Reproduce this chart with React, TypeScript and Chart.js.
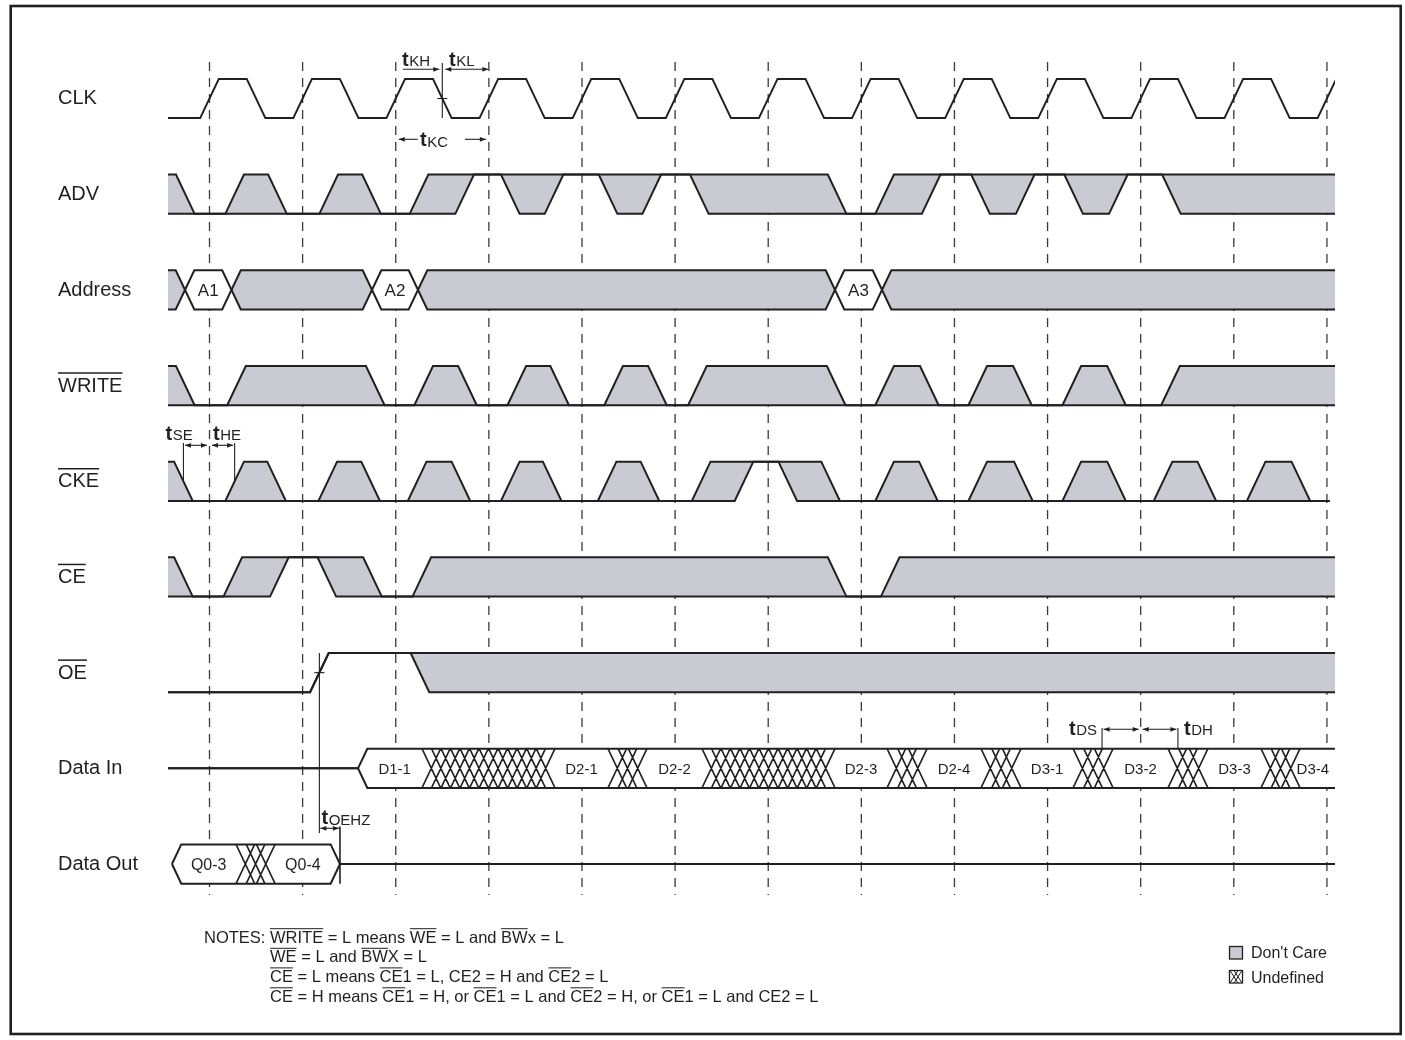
import React, { useEffect, useRef } from 'react';
import { Chart, registerables } from 'chart.js';

Chart.register(...registerables);

type Trans = [number, string];
type Pt = { x: number; y: number | null };

// ---------------- data (time in clock periods, rows top to bottom) ----------------
const ROW_LABELS = ['CLK', 'ADV', 'Address', 'WRITE', 'CKE', 'CE', 'OE', 'Data In', 'Data Out'];
const ROW_OVERLINE = [false, false, false, true, true, true, true, false, false];

const CLOCK_EDGES = [0, 1, 2, 3, 4, 5, 6, 7, 8, 9, 10, 11, 12];

const CLK_INIT = '0';
const CLK_TRANS: Trans[] = [
  [0, '1'], [0.5, '0'], [1, '1'], [1.5, '0'], [2, '1'], [2.5, '0'], [3, '1'], [3.5, '0'],
  [4, '1'], [4.5, '0'], [5, '1'], [5.5, '0'], [6, '1'], [6.5, '0'], [7, '1'], [7.5, '0'],
  [8, '1'], [8.5, '0'], [9, '1'], [9.5, '0'], [10, '1'], [10.5, '0'], [11, '1'], [11.5, '0'], [12, '1'],
];

const ADV_INIT = 'X';
const ADV_TRANS: Trans[] = [
  [-0.26, '0'], [0.27, 'X'], [0.73, '0'], [1.28, 'X'], [1.74, '0'], [2.25, 'X'], [2.74, '1'],
  [3.23, 'X'], [3.7, '1'], [4.28, 'X'], [4.75, '1'], [5.26, 'X'], [6.74, '0'], [7.25, 'X'],
  [7.75, '1'], [8.28, 'X'], [8.76, '1'], [9.28, 'X'], [9.76, '1'], [10.33, 'X'],
];

const ADDR_INIT = 'X';
const ADDR_TRANS: Trans[] = [
  [-0.263, 'V'], [0.236, 'X'], [1.745, 'V'], [2.239, 'X'], [6.717, 'V'], [7.222, 'X'],
];
const ADDR_LABELS = ['A1', 'A2', 'A3'];

const WRITE_INIT = 'X';
const WRITE_TRANS: Trans[] = [
  [-0.26, '0'], [0.29, 'X'], [1.78, '0'], [2.3, 'X'], [2.77, '0'], [3.3, 'X'], [3.76, '0'],
  [4.34, 'X'], [4.81, '0'], [5.24, 'X'], [6.73, '0'], [7.25, 'X'], [7.73, '0'], [8.25, 'X'],
  [8.73, '0'], [9.26, 'X'], [9.74, '0'], [10.32, 'X'],
];

const CKE_INIT = 'X';
const CKE_TRANS: Trans[] = [
  [-0.28, '0'], [0.27, 'X'], [0.72, '0'], [1.27, 'X'], [1.73, '0'], [2.23, 'X'], [2.7, '0'],
  [3.23, 'X'], [3.68, '0'], [4.27, 'X'], [4.73, '0'], [5.28, 'X'], [5.74, '1'], [6.21, 'X'],
  [6.67, '0'], [7.25, 'X'], [7.72, '0'], [8.25, 'X'], [8.74, '0'], [9.26, 'X'], [9.74, '0'],
  [10.24, 'X'], [10.71, '0'], [11.24, 'X'], [11.72, '0'],
];
const CKE_END = 12.03;

const CE_INIT = 'X';
const CE_TRANS: Trans[] = [
  [-0.28, '0'], [0.25, 'X'], [0.75, '1'], [1.26, 'X'], [1.75, '0'], [2.28, 'X'], [6.74, '0'], [7.31, 'X'],
];

const OE_INIT = '0';
const OE_TRANS: Trans[] = [[1.18, '1'], [2.26, 'X']];

const DIN_INIT = 'Z';
const DIN_TRANS: Trans[] = [
  [1.595, 'V'], [2.282, 'U'], [3.71, 'V'], [4.279, 'U'], [4.698, 'V'], [5.289, 'U'], [6.717, 'V'],
  [7.276, 'U'], [7.706, 'V'], [8.285, 'U'], [8.715, 'V'], [9.274, 'U'], [9.703, 'V'],
  [10.293, 'U'], [10.722, 'V'], [11.292, 'U'], [11.711, 'V'],
];
const DIN_LABELS = ['D1-1', 'D2-1', 'D2-2', 'D2-3', 'D2-4', 'D3-1', 'D3-2', 'D3-3', 'D3-4'];

const DOUT_INIT = 'Z';
const DOUT_START = -0.403;
const DOUT_TRANS: Trans[] = [[-0.403, 'V'], [0.285, 'U'], [0.704, 'V'], [1.401, 'Z']];
const DOUT_LABELS = ['Q0-3', 'Q0-4'];

// timing markers (times in clock periods)
const T_KH_KL = 2.5;
const T_DS = 9.585;
const T_DH = 10.4;

const NOTES: [string, boolean][][] = [
  [['NOTES: ', false], ['WRITE', true], [' = L means ', false], ['WE', true], [' = L and ', false], ['BW', true], ['x = L', false]],
  [['WE', true], [' = L and ', false], ['BW', true], ['X = L', false]],
  [['CE', true], [' = L means ', false], ['CE', true], ['1 = L, CE2 = H and ', false], ['CE', true], ['2 = L', false]],
  [['CE', true], [' = H means ', false], ['CE', true], ['1 = H, or ', false], ['CE', true], ['1 = L and ', false], ['CE', true], ['2 = H, or ', false], ['CE', true], ['1 = L and CE2 = L', false]],
];

// ---------------- style / geometry ----------------
const INK = '#231f20';
const GRAY = '#c8cbd2';
const WHITE = '#ffffff';
const FONT = '"Liberation Sans", Arial, Helvetica, sans-serif';
const AMP = 0.205;
const SLEW = 0.2;
const HALF = SLEW / 2;
const HATCH_STEP = 0.104;
const T_START = -0.6;
const T_END = 12.3;
const DASH_TOP = -0.381;
const DASH_BOTTOM = 8.324;
const X_MIN = -0.44566;
const X_MAX = 12.0866;
const Y_MIN = -1.02936;
const Y_MAX = 9.83907;

function levelPath(init: string, trans: Trans[], lv: (s: string) => number, start = T_START, end = T_END): Pt[] {
  const pts: Pt[] = [{ x: start, y: lv(init) }];
  let prev = init;
  for (const [t, s] of trans) {
    if (lv(s) !== lv(prev)) pts.push({ x: t - HALF, y: lv(prev) }, { x: t + HALF, y: lv(s) });
    prev = s;
  }
  pts.push({ x: end, y: lv(prev) });
  return pts;
}

function binaryPaths(row: number, init: string, trans: Trans[], end = T_END): [Pt[], Pt[]] {
  const hi = row - AMP, lo = row + AMP;
  return [
    levelPath(init, trans, (s) => (s === '0' ? lo : hi), T_START, end),
    levelPath(init, trans, (s) => (s === '1' ? hi : lo), T_START, end),
  ];
}

function addrPaths(row: number, init: string, trans: Trans[]): [Pt[], Pt[]] {
  const top = row - AMP, bot = row + AMP;
  return [
    levelPath(init, trans, (s) => (s === 'X' ? top : bot)),
    levelPath(init, trans, (s) => (s === 'X' ? bot : top)),
  ];
}

function dataPath(row: number, init: string, trans: Trans[], side: number, start: number): Pt[] {
  const full = row + side * AMP;
  const lv = (s: string) => (s === 'Z' ? row : full);
  const pts: Pt[] = [{ x: start, y: lv(init) }];
  let prev = init;
  for (const [t, s] of trans) {
    if (prev === 'Z' && s !== 'Z') pts.push({ x: t, y: row }, { x: t + HALF, y: full });
    else if (prev !== 'Z' && s === 'Z') pts.push({ x: t - HALF, y: full }, { x: t, y: row });
    prev = s;
  }
  pts.push({ x: T_END, y: lv(prev) });
  return pts;
}

function hatchPts(row: number, trans: Trans[]): Pt[] {
  const top = row - AMP, bot = row + AMP;
  const out: Pt[] = [];
  trans.forEach(([t, s], i) => {
    if (s !== 'U') return;
    const a = t, b = trans[i + 1][0];
    const n = Math.max(2, Math.round((b - a - SLEW) / HATCH_STEP) + 1);
    const step = (b - a - SLEW) / (n - 1);
    for (let k = 0; k < n; k++) {
      const x = a + k * step;
      out.push({ x, y: top }, { x: x + SLEW, y: bot }, { x: x + SLEW, y: null });
      out.push({ x, y: bot }, { x: x + SLEW, y: top }, { x: x + SLEW, y: null });
    }
  });
  return out;
}

function dataLabelCenters(init: string, trans: Trans[]): number[] {
  const c: number[] = [];
  trans.forEach(([t, s], i) => {
    if (s !== 'V') return;
    const prev = i > 0 ? trans[i - 1][1] : init;
    const tipL = prev === 'U' ? t - HALF : t;
    const nx = trans[i + 1];
    const tipR = !nx ? X_MAX : nx[1] === 'U' ? nx[0] + HALF : nx[0];
    c.push((tipL + tipR) / 2);
  });
  return c;
}

function addrLabelCenters(trans: Trans[]): number[] {
  const c: number[] = [];
  trans.forEach(([t, s], i) => {
    if (s === 'V') c.push((t + trans[i + 1][0]) / 2);
  });
  return c;
}

function line(data: Pt[], extra: any = {}) {
  return {
    data,
    borderColor: INK,
    borderWidth: 2,
    pointRadius: 0,
    pointHoverRadius: 0,
    tension: 0,
    fill: false,
    order: 3,
    ...extra,
  };
}

function buildDatasets() {
  const ds: any[] = [];
  const dash: Pt[] = CLOCK_EDGES.flatMap((t) => [
    { x: t, y: DASH_TOP }, { x: t, y: DASH_BOTTOM }, { x: t, y: null },
  ]);
  ds.push(line(dash, { borderDash: [9, 7], borderWidth: 1.3, borderColor: '#3a3a3a', order: 10 }));

  ds.push(line(binaryPaths(0, CLK_INIT, CLK_TRANS)[0]));

  const bin = (row: number, init: string, trans: Trans[], end = T_END) => {
    const [u, l] = binaryPaths(row, init, trans, end);
    ds.push(line(u, { fill: { target: '+1', above: GRAY, below: GRAY }, order: 5 }));
    ds.push(line(l, { order: 3 }));
  };
  bin(1, ADV_INIT, ADV_TRANS);
  const [au, al] = addrPaths(2, ADDR_INIT, ADDR_TRANS);
  ds.push(line(au, { fill: { target: '+1', above: GRAY, below: WHITE }, order: 5 }));
  ds.push(line(al, { order: 3 }));
  bin(3, WRITE_INIT, WRITE_TRANS);
  bin(4, CKE_INIT, CKE_TRANS, CKE_END);
  bin(5, CE_INIT, CE_TRANS);
  bin(6, OE_INIT, OE_TRANS);

  const bus = (row: number, init: string, trans: Trans[], start: number) => {
    ds.push(line(dataPath(row, init, trans, -1, start), { fill: { target: '+1', above: WHITE, below: WHITE }, order: 5 }));
    ds.push(line(dataPath(row, init, trans, 1, start), { order: 3 }));
    ds.push(line(hatchPts(row, trans), { borderWidth: 1.6, order: 2 }));
  };
  bus(7, DIN_INIT, DIN_TRANS, T_START);
  bus(8, DOUT_INIT, DOUT_TRANS, DOUT_START);
  return ds;
}

// ---------------- decorations ----------------
function arrow(ctx: CanvasRenderingContext2D, x1: number, x2: number, y: number, hl: boolean, hr: boolean) {
  const L = 6, H = 2.4;
  ctx.beginPath();
  ctx.moveTo(x1, y);
  ctx.lineTo(x2, y);
  ctx.stroke();
  if (hl) {
    ctx.beginPath();
    ctx.moveTo(x1, y); ctx.lineTo(x1 + L, y - H); ctx.lineTo(x1 + L, y + H); ctx.closePath(); ctx.fill();
  }
  if (hr) {
    ctx.beginPath();
    ctx.moveTo(x2, y); ctx.lineTo(x2 - L, y - H); ctx.lineTo(x2 - L, y + H); ctx.closePath(); ctx.fill();
  }
}

function vline(ctx: CanvasRenderingContext2D, x: number, y1: number, y2: number) {
  ctx.beginPath();
  ctx.moveTo(x, y1);
  ctx.lineTo(x, y2);
  ctx.stroke();
}

function tLabel(ctx: CanvasRenderingContext2D, x: number, y: number, sub: string) {
  ctx.font = 'bold 20px ' + FONT;
  ctx.fillText('t', x, y);
  const w = ctx.measureText('t').width;
  ctx.font = '15px ' + FONT;
  ctx.fillText(sub, x + w + 0.5, y + 0.5);
}

const decor = {
  id: 'decor',
  afterDraw(chart: any) {
    const ctx: CanvasRenderingContext2D = chart.ctx;
    const xs = chart.scales.x, ys = chart.scales.y;
    const X = (t: number) => xs.getPixelForValue(t);
    const Y = (r: number) => ys.getPixelForValue(r);
    ctx.save();
    ctx.strokeStyle = INK;
    ctx.fillStyle = INK;
    ctx.textAlign = 'left';
    ctx.textBaseline = 'alphabetic';

    // frame
    ctx.lineWidth = 2.6;
    ctx.strokeRect(10.7, 6, 1390, 1028);

    // row labels
    ctx.font = '20px ' + FONT;
    ROW_LABELS.forEach((lab, i) => {
      const y = Y(i) + 6;
      ctx.fillText(lab, 58, y);
      if (ROW_OVERLINE[i]) {
        const w = ctx.measureText(lab).width;
        ctx.lineWidth = 1.5;
        ctx.beginPath();
        ctx.moveTo(58, y - 18.5);
        ctx.lineTo(58 + w, y - 18.5);
        ctx.stroke();
      }
    });

    // bus labels
    ctx.textAlign = 'center';
    ctx.font = '17px ' + FONT;
    addrLabelCenters(ADDR_TRANS).forEach((t, i) => ctx.fillText(ADDR_LABELS[i], X(t), Y(2) + 6.5));
    ctx.font = '15px ' + FONT;
    dataLabelCenters(DIN_INIT, DIN_TRANS).forEach((t, i) => ctx.fillText(DIN_LABELS[i], X(t), Y(7) + 5.5));
    ctx.font = '16px ' + FONT;
    dataLabelCenters(DOUT_INIT, DOUT_TRANS).forEach((t, i) => ctx.fillText(DOUT_LABELS[i], X(t), Y(8) + 6));
    ctx.textAlign = 'left';

    // timing annotations
    ctx.lineWidth = 1.1;
    // tKH / tKL
    const xk = X(T_KH_KL);
    vline(ctx, xk, 63, Y(AMP));
    ctx.beginPath(); ctx.moveTo(xk - 5, Y(0)); ctx.lineTo(xk + 5, Y(0)); ctx.stroke();
    arrow(ctx, X(2) + 7, xk - 3, 69.3, false, true);
    arrow(ctx, xk + 3, X(3) - 0.5, 69.3, true, true);
    tLabel(ctx, 402, 65.5, 'KH');
    tLabel(ctx, 449, 65.5, 'KL');
    // tKC
    arrow(ctx, X(2) + 3, X(2) + 22, 139.3, true, false);
    arrow(ctx, X(3) - 24, X(3) - 3, 139.3, false, true);
    tLabel(ctx, 420, 146, 'KC');
    // tSE / tHE
    const xse = X(CKE_TRANS[0][0]);
    const xhe = X(CKE_TRANS[1][0]);
    vline(ctx, xse, 443, Y(4) + 1);
    vline(ctx, xhe, 443, Y(4) + 1);
    arrow(ctx, xse + 1.5, X(0) - 2.5, 445.3, true, true);
    arrow(ctx, X(0) + 2.5, xhe - 1.5, 445.3, true, true);
    tLabel(ctx, 165.5, 439.5, 'SE');
    tLabel(ctx, 213, 439.5, 'HE');
    // tOEHZ
    const xoe = X(OE_TRANS[0][0]);
    const xdz = X(DOUT_TRANS[DOUT_TRANS.length - 1][0]);
    vline(ctx, xoe, Y(6 - AMP), 833);
    ctx.beginPath(); ctx.moveTo(xoe - 5, Y(6)); ctx.lineTo(xoe + 5, Y(6)); ctx.stroke();
    ctx.lineWidth = 1.6;
    vline(ctx, xdz, 826.5, Y(8 + AMP));
    ctx.lineWidth = 1.1;
    arrow(ctx, xoe + 1, xdz - 1, 828.3, true, true);
    tLabel(ctx, 321.5, 824, 'OEHZ');
    // tDS / tDH
    const xds = X(T_DS), xdh = X(T_DH), x10 = X(10);
    vline(ctx, xds, 728, Y(7 - AMP));
    vline(ctx, xdh, 728, Y(7 - AMP));
    arrow(ctx, xds + 1.5, x10 - 2, 729.3, true, true);
    arrow(ctx, x10 + 2, xdh - 1.5, 729.3, true, true);
    tLabel(ctx, 1069, 734.5, 'DS');
    tLabel(ctx, 1184, 734.5, 'DH');

    // legend
    ctx.lineWidth = 1.3;
    ctx.fillStyle = GRAY;
    ctx.fillRect(1229.5, 946.5, 13, 12.5);
    ctx.strokeRect(1229.5, 946.5, 13, 12.5);
    ctx.fillStyle = WHITE;
    ctx.fillRect(1229.5, 970.5, 13, 12.5);
    ctx.strokeRect(1229.5, 970.5, 13, 12.5);
    ctx.lineWidth = 1;
    for (let k = 0; k < 2; k++) {
      const xa = 1230 + k * 4;
      ctx.beginPath();
      ctx.moveTo(xa, 970.5); ctx.lineTo(xa + 8, 983);
      ctx.moveTo(xa + 8, 970.5); ctx.lineTo(xa, 983);
      ctx.stroke();
    }
    ctx.fillStyle = INK;
    ctx.font = '16px ' + FONT;
    ctx.fillText("Don't Care", 1251, 958);
    ctx.fillText('Undefined', 1251, 982.5);

    // notes
    ctx.font = '16.5px ' + FONT;
    const indent = 204 + ctx.measureText('NOTES: ').width;
    const bases = [942.7, 962.3, 981.9, 1001.8];
    ctx.lineWidth = 1;
    NOTES.forEach((segs, li) => {
      let cx = li === 0 ? 204 : indent;
      const y = bases[li];
      for (const [txt, ov] of segs) {
        ctx.fillText(txt, cx, y);
        const w = ctx.measureText(txt).width;
        if (ov) {
          ctx.beginPath();
          ctx.moveTo(cx, y - 14);
          ctx.lineTo(cx + w, y - 14);
          ctx.stroke();
        }
        cx += w;
      }
    });

    ctx.restore();
  },
};

export default function App() {
  const ref = useRef<HTMLCanvasElement>(null);
  useEffect(() => {
    document.body.style.margin = '0';
    const canvas = ref.current;
    if (!canvas) return;
    const chart = new Chart(canvas, {
      type: 'line',
      data: { datasets: buildDatasets() },
      options: {
        animation: false,
        responsive: false,
        devicePixelRatio: 1,
        events: [],
        layout: { padding: { left: 168, right: 70, top: 0, bottom: 0 } },
        scales: {
          x: { type: 'linear', min: X_MIN, max: X_MAX, display: false },
          y: { type: 'linear', min: Y_MIN, max: Y_MAX, reverse: true, display: false },
        },
        plugins: {
          legend: { display: false },
          tooltip: { enabled: false },
        },
      },
      plugins: [decor],
    } as any);
    return () => chart.destroy();
  }, []);
  return <canvas ref={ref} width={1405} height={1040} style={{ display: 'block', width: 1405, height: 1040 }} />;
}
